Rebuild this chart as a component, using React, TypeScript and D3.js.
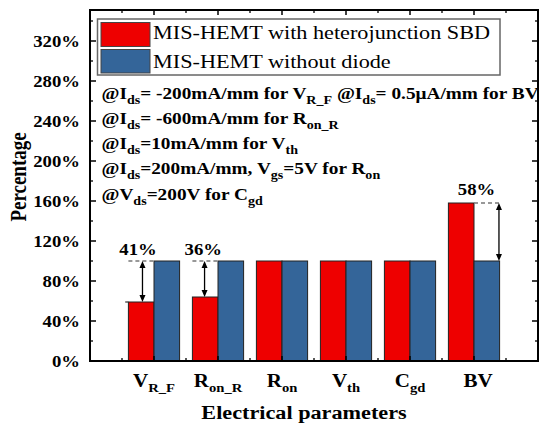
import React from "react";
import * as d3 from "d3";

const categories = ["V_R_F", "R_on_R", "R_on", "V_th", "C_gd", "BV"];
const catMain = ["V", "R", "R", "V", "C", "BV"];
const catSub = ["R_F", "on_R", "on", "th", "gd", ""];
const withSBD = [59, 64, 100, 100, 100, 158];
const withoutDiode = [100, 100, 100, 100, 100, 100];
const seriesNames = ["MIS-HEMT with heterojunction SBD", "MIS-HEMT without diode"];
const yTicks = [0, 40, 80, 120, 160, 200, 240, 280, 320];
const yMinor = [20, 60, 100, 140, 180, 220, 260, 300, 340];
const notes: [string, boolean][][] = [
  [["@I", false], ["ds", true], ["= -200mA/mm for V", false], ["R_F", true], [" @I", false], ["ds", true], ["= 0.5\u03bcA/mm for BV", false]],
  [["@I", false], ["ds", true], ["= -600mA/mm for R", false], ["on_R", true]],
  [["@I", false], ["ds", true], ["=10mA/mm for V", false], ["th", true]],
  [["@I", false], ["ds", true], ["=200mA/mm, V", false], ["gs", true], ["=5V for R", false], ["on", true]],
  [["@V", false], ["ds", true], ["=200V for C", false], ["gd", true]],
];
const noteBaselines = [99, 124, 149, 174, 200];
// [category index, label, label dx (units), arrow dx (units)]
const changes: [number, string, number, number][] = [
  [0, "41%", -0.25, -0.18],
  [1, "36%", -0.23, -0.21],
  [5, "58%", 0.04, 0.39],
];

const RED = "#EE0000";
const BLUE = "#346599";
const SX = 1.17;
const FONT = "Liberation Serif";

function SText(props: { x: number; y: number; size: number; bold?: boolean; anchor?: string; rotate?: boolean; children: any }) {
  const { x, y, size, bold = true, anchor = "start", rotate, children } = props;
  return (
    <text
      transform={`translate(${x},${y}) scale(${SX},1)${rotate ? " rotate(-90)" : ""}`}
      fontFamily={FONT}
      fontSize={size}
      fontWeight={bold ? "bold" : "normal"}
      textAnchor={anchor}
      fill="#000"
    >
      {children}
    </text>
  );
}

function segs(parts: [string, boolean][], size: number, subSize: number, drop: number) {
  const out: any[] = [];
  let down = false;
  parts.forEach(([t, sub], i) => {
    let dy = 0;
    if (sub && !down) { dy = drop; down = true; }
    else if (!sub && down) { dy = -drop; down = false; }
    out.push(
      <tspan key={i} dy={dy} fontSize={sub ? subSize : size}>{t}</tspan>
    );
  });
  return out;
}

export default function App() {
  const W = 540, H = 423;
  const left = 90, right = 538, top = 10, bottom = 361;
  const x = d3.scaleLinear().domain([0, 7]).range([left, right]);
  const y = d3.scaleLinear().domain([0, 351]).range([bottom, top]);
  const u = x(1) - x(0);
  const bw = 0.4;
  const xMajor = d3.range(1, 7);
  const xMinor = d3.range(0.5, 7, 1);

  const arrow = (ax: number, y1: number, y2: number, k: number) => {
    const dir = y2 > y1 ? 1 : -1;
    const h = 7, w = 3;
    return (
      <g key={"ar" + k}>
        <line x1={ax} x2={ax} y1={y1 + dir * 3} y2={y2 - dir * 3} stroke="#000" strokeWidth={1.3} />
        <path d={`M${ax},${y1} L${ax - w},${y1 + dir * h} L${ax + w},${y1 + dir * h} Z`} fill="#000" />
        <path d={`M${ax},${y2} L${ax - w},${y2 - dir * h} L${ax + w},${y2 - dir * h} Z`} fill="#000" />
      </g>
    );
  };

  return (
    <svg width={W} height={H} style={{ position: "absolute", left: 0, top: 0 }}>
      <rect x={0} y={0} width={W} height={H} fill="#fff" />
      {categories.map((c, i) => {
        const cx = x(i + 1);
        return (
          <g key={c}>
            <rect x={cx - bw * u} y={y(withSBD[i])} width={bw * u} height={y(0) - y(withSBD[i])} fill={RED} stroke="#222" strokeWidth={1} />
            <rect x={cx} y={y(withoutDiode[i])} width={bw * u} height={y(0) - y(withoutDiode[i])} fill={BLUE} stroke="#222" strokeWidth={1} />
          </g>
        );
      })}
      {changes.map(([i, lab, ldx, adx], k) => {
        const cx = x(i + 1);
        const hi = Math.max(withSBD[i], withoutDiode[i]);
        const lo = Math.min(withSBD[i], withoutDiode[i]);
        const dashRight = withSBD[i] > withoutDiode[i];
        return (
          <g key={lab}>
            {dashRight ? (
              <line x1={cx} x2={cx + bw * u + 1} y1={y(hi)} y2={y(hi)} stroke="#777" strokeWidth={1.3} strokeDasharray="4,3" />
            ) : (
              <>
                <line x1={cx - bw * u} x2={cx} y1={y(hi)} y2={y(hi)} stroke="#777" strokeWidth={1.3} strokeDasharray="4,3" />
                {k === 0 && <line x1={cx - 0.45 * u} x2={cx - bw * u} y1={y(lo)} y2={y(lo)} stroke="#333" strokeWidth={1.2} />}
              </>
            )}
            {arrow(cx + adx * u, y(hi), y(lo), k)}
            <SText x={cx + ldx * u} y={dashRight ? y(hi) - 8 : y(hi) - 6} size={16} anchor="middle">{lab}</SText>
          </g>
        );
      })}
      <rect x={left} y={top} width={right - left} height={bottom - top} fill="none" stroke="#000" strokeWidth={2} />
      {yTicks.map((t) => (
        <g key={"yt" + t}>
          <line x1={left} x2={left + 6} y1={y(t)} y2={y(t)} stroke="#000" strokeWidth={1.5} />
          <line x1={right} x2={right - 6} y1={y(t)} y2={y(t)} stroke="#000" strokeWidth={1.5} />
          <SText x={80} y={y(t) + 5.5} size={16} anchor="end">{t + "%"}</SText>
        </g>
      ))}
      {yMinor.map((t) => (
        <g key={"ym" + t}>
          <line x1={left} x2={left + 3} y1={y(t)} y2={y(t)} stroke="#000" strokeWidth={1.3} />
          <line x1={right} x2={right - 3} y1={y(t)} y2={y(t)} stroke="#000" strokeWidth={1.3} />
        </g>
      ))}
      {xMajor.map((t) => (
        <g key={"xt" + t}>
          <line x1={x(t)} x2={x(t)} y1={bottom} y2={bottom - 5} stroke="#000" strokeWidth={1.5} />
          <line x1={x(t)} x2={x(t)} y1={top} y2={top + 5} stroke="#000" strokeWidth={1.5} />
        </g>
      ))}
      {xMinor.map((t) => (
        <g key={"xm" + t}>
          <line x1={x(t)} x2={x(t)} y1={bottom} y2={bottom - 3} stroke="#000" strokeWidth={1.3} />
          <line x1={x(t)} x2={x(t)} y1={top} y2={top + 3} stroke="#000" strokeWidth={1.3} />
        </g>
      ))}
      {categories.map((c, i) => (
        <SText key={"xl" + c} x={x(i + 1) + (catSub[i] ? 0 : 4)} y={387} size={18} anchor="middle">
          {segs(catSub[i] ? [[catMain[i], false], [catSub[i], true]] : [[catMain[i], false]], 18, 12.5, 5)}
        </SText>
      ))}
      <SText x={304} y={419} size={19} anchor="middle">Electrical parameters</SText>
      <SText x={26} y={177} size={19} anchor="middle" rotate>Percentage</SText>
      <rect x={97.5} y={19} width={402.5} height={56} fill="#fff" stroke="#666" strokeWidth={1.5} />
      <rect x={101} y={22.5} width={49} height={24} fill={RED} stroke="#444" strokeWidth={1} />
      <rect x={101} y={49.5} width={49} height={23.5} fill={BLUE} stroke="#444" strokeWidth={1} />
      <SText x={153} y={38.5} size={19} bold={false}>{seriesNames[0]}</SText>
      <SText x={153} y={68} size={19} bold={false}>{seriesNames[1]}</SText>
      {notes.map((ln, i) => (
        <SText key={"n" + i} x={101.5} y={noteBaselines[i]} size={16.5}>
          {segs(ln, 16.5, 12, 5)}
        </SText>
      ))}
    </svg>
  );
}
